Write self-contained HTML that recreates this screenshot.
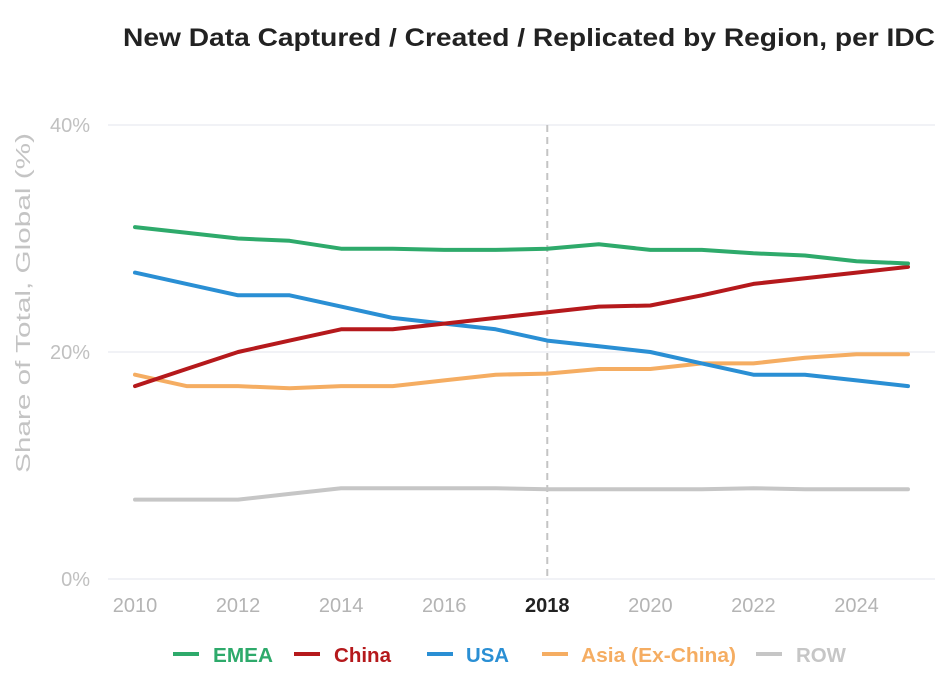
<!DOCTYPE html>
<html><head><meta charset="utf-8"><style>
body{margin:0;background:#fff;}
svg{display:block;font-family:"Liberation Sans",Arial,sans-serif;}
</style></head><body>
<svg id="chart" width="947" height="683">
<text x="123" y="46" textLength="812" lengthAdjust="spacingAndGlyphs" font-size="25" font-weight="bold" fill="#222">New Data Captured / Created / Replicated by Region, per IDC</text>
<text transform="translate(30,303) rotate(-90)" text-anchor="middle" textLength="340" lengthAdjust="spacingAndGlyphs" font-size="20" fill="#c4c4c4">Share of Total, Global (%)</text>
<g id="grid"></g><g id="series"></g><g id="legend"></g>
</svg>
<script>
const years=[2010,2011,2012,2013,2014,2015,2016,2017,2018,2019,2020,2021,2022,2023,2024,2025];
const emea=[31,30.5,30,29.8,29.1,29.1,29,29,29.1,29.5,29,29,28.7,28.5,28,27.8];
const china=[17,18.5,20,21,22,22,22.5,23,23.5,24,24.1,25,26,26.5,27,27.5];
const usa=[27,26,25,25,24,23,22.5,22,21,20.5,20,19,18,18,17.5,17];
const asia=[18,17,17,16.8,17,17,17.5,18,18.1,18.5,18.5,19,19,19.5,19.8,19.8];
const row=[7,7,7,7.5,8,8,8,8,7.9,7.9,7.9,7.9,8,7.9,7.9,7.9];
const yTicks=[0,20,40];
const xTicks=[2010,2012,2014,2016,2018,2020,2022,2024];
const seriesNames=["EMEA","China","USA","Asia (Ex-China)","ROW"];
const NS="http://www.w3.org/2000/svg";
const x=v=>135+(v-2010)*(908-135)/15;
const y=v=>579-v*(579-125)/40;
function mk(tag,attrs,parent,txt){const e=document.createElementNS(NS,tag);for(const k in attrs)e.setAttribute(k,attrs[k]);if(txt!==undefined)e.textContent=txt;parent.appendChild(e);return e;}
const grid=document.getElementById('grid');
yTicks.forEach(t=>{
  const l=mk('line',{x1:108,x2:935,y1:y(t),y2:y(t),stroke:'#e3e6ee','stroke-width':1},grid);
  
  
  const tx=mk('text',{x:90,y:y(t)+7,'text-anchor':'end','font-size':20,fill:'#c0c0c0'},grid,t+'%');
  
  
});
const vl=mk('line',{x1:x(2018),x2:x(2018),y1:125,y2:579,stroke:'#c4c4c4','stroke-width':2,'stroke-dasharray':'7,5'},grid);


xTicks.forEach(t=>{
  const b=t===2018;
  const tx=mk('text',{x:x(t),y:612,'text-anchor':'middle','font-size':20,fill:b?'#222':'#b4b4b4','font-weight':b?'bold':'normal'},grid,String(t));
  
  
});
const data=[emea,china,usa,asia,row];
const colors=['#2eaa6b','#b5191c','#2a8fd4','#f5ad62','#c6c6c6'];
const sg=document.getElementById('series');
[4,3,2,1,0].forEach(i=>{
  const d=data[i].map((v,j)=>(j?'L':'M')+x(years[j]).toFixed(1)+','+y(v).toFixed(1)).join('');
  const p=mk('path',{d:d,fill:'none',stroke:colors[i],'stroke-width':4,'stroke-linejoin':'round','stroke-linecap':'round'},sg);
  
  
});
const lg=document.getElementById('legend');
const lx=[173,294,427,542,756];
const tx0=[213,334,466,581,796];
const tw=[60,57,43,155,50];
seriesNames.forEach((n,i)=>{
  const g=mk('g',{},lg);
  
  
  mk('line',{x1:lx[i],x2:lx[i]+26,y1:654,y2:654,stroke:colors[i],'stroke-width':4},g);
  mk('text',{x:tx0[i],y:662,'font-size':20,'font-weight':'bold',fill:colors[i],textLength:tw[i],lengthAdjust:'spacingAndGlyphs'},g,n);
});
</script>
</body></html>
